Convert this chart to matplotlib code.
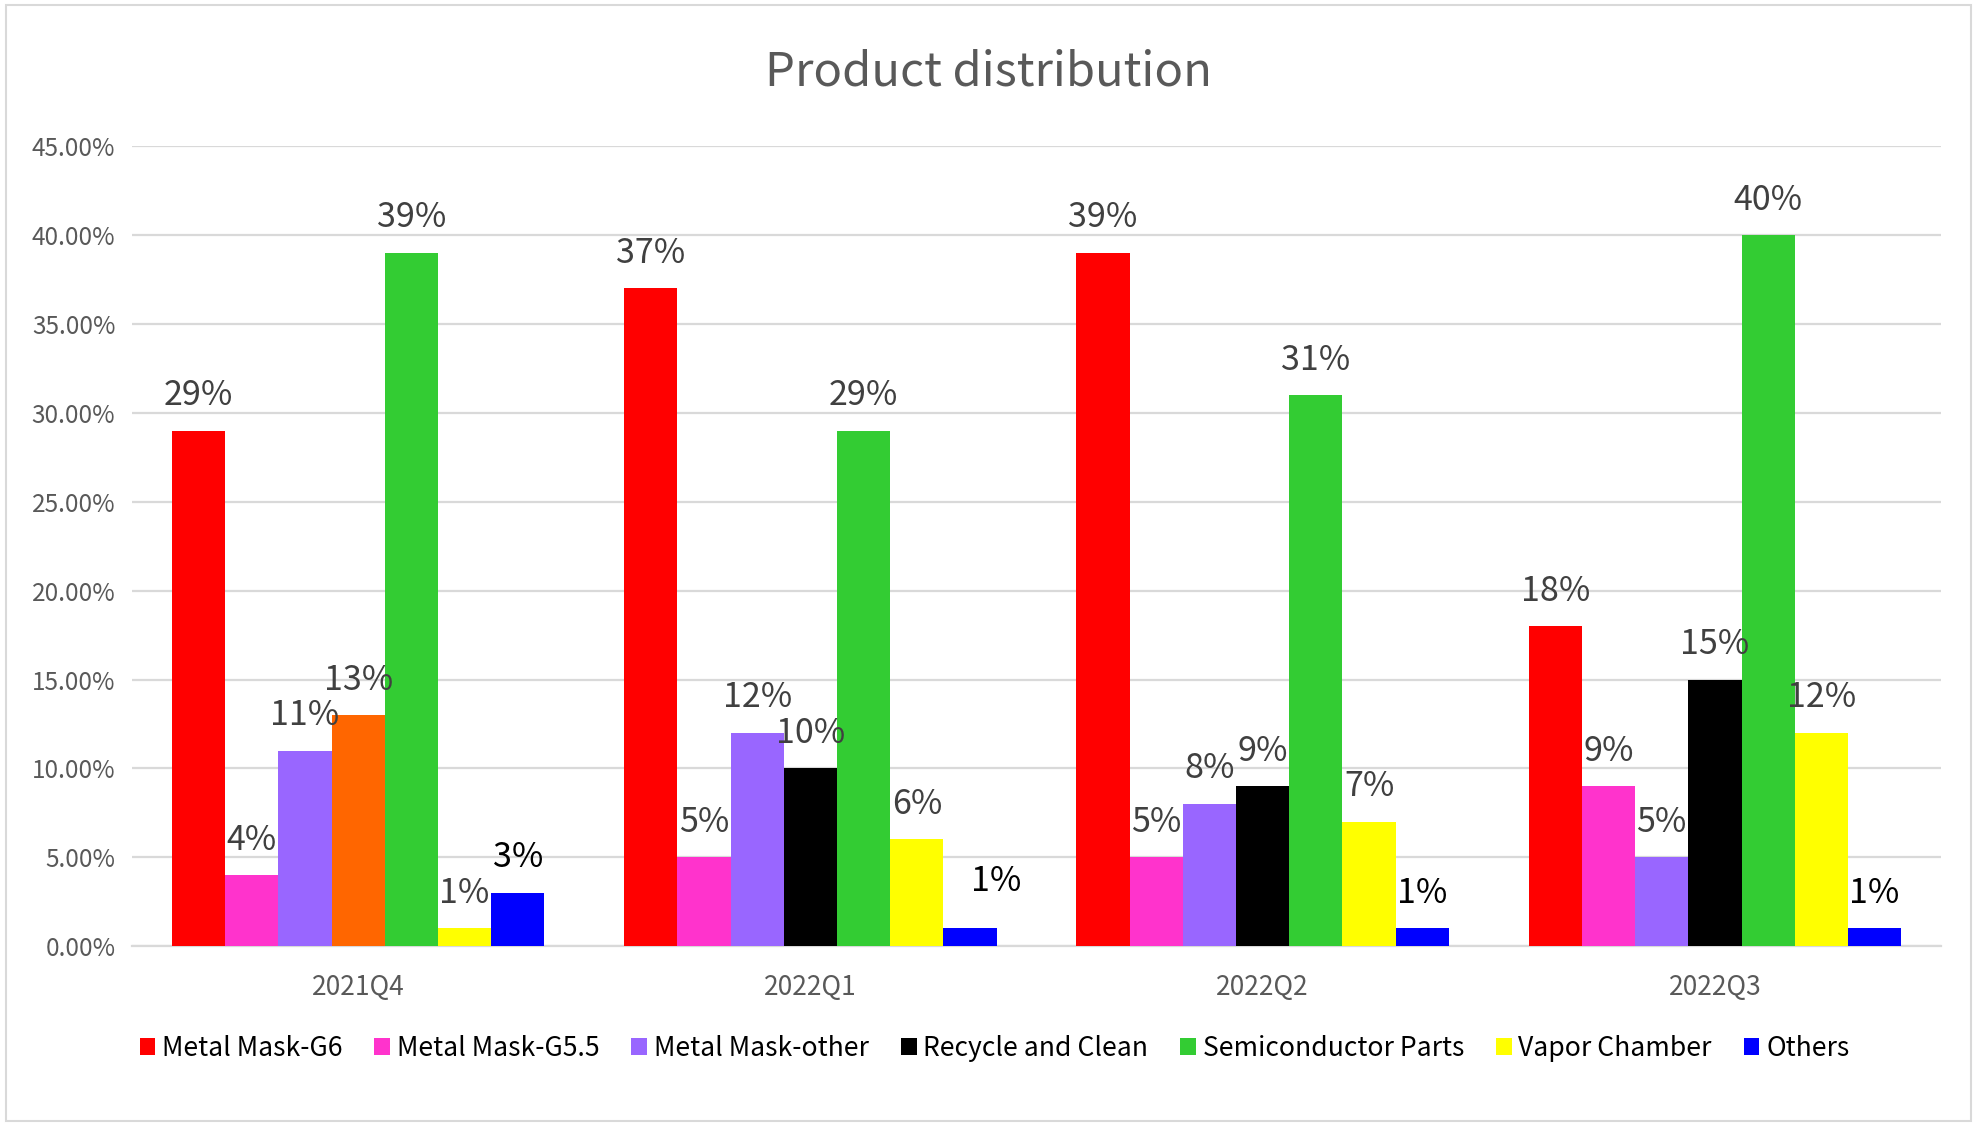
import matplotlib
matplotlib.use("Agg")
import matplotlib.pyplot as plt
import numpy as np
from matplotlib.patches import Patch, Rectangle

plt.rcParams['font.family'] = ['Noto Sans CJK TC', 'DejaVu Sans']

categories = ["2021Q4", "2022Q1", "2022Q2", "2022Q3"]
series_names = ["Metal Mask-G6", "Metal Mask-G5.5", "Metal Mask-other",
                "Recycle and Clean", "Semiconductor Parts", "Vapor Chamber", "Others"]
metal_mask_g6 = [0.29, 0.37, 0.39, 0.18]
metal_mask_g55 = [0.04, 0.05, 0.05, 0.09]
metal_mask_other = [0.11, 0.12, 0.08, 0.05]
recycle_clean = [0.13, 0.10, 0.09, 0.15]
semiconductor = [0.39, 0.29, 0.31, 0.40]
vapor_chamber = [0.01, 0.06, 0.07, 0.12]
others = [0.03, 0.01, 0.01, 0.01]
yticks = [0.0, 0.05, 0.10, 0.15, 0.20, 0.25, 0.30, 0.35, 0.40, 0.45]

series_values = [metal_mask_g6, metal_mask_g55, metal_mask_other,
                 recycle_clean, semiconductor, vapor_chamber, others]
colors = ["#FF0000", "#FF33CC", "#9966FF", "#000000", "#33CC33", "#FFFF00", "#0000FF"]
label_colors = ["#404040"] * 6 + ["#000000"]

fig = plt.figure(figsize=(19.77, 11.25), dpi=100)
ax = fig.add_axes([0.0668, 0.159, 0.915, 0.711])

n = len(series_names)
bw = 1.0 / (n + 1.5)
x = np.arange(len(categories))
for i, (name, vals) in enumerate(zip(series_names, series_values)):
    pos = x + (i - (n - 1) / 2) * bw
    bars = ax.bar(pos, vals, width=bw, color=colors[i], label=name, zorder=3)
    if name == "Recycle and Clean":
        bars[0].set_facecolor("#FF6600")
    for j, (b, v) in enumerate(zip(bars, vals)):
        dx, dy = 0, 35
        if name == "Others" and j == 1:
            dx, dy = 26, 47
        ax.annotate(f"{v*100:.0f}%", (b.get_x() + b.get_width() / 2, v),
                    xytext=(dx * 0.72, dy * 0.72), textcoords="offset points",
                    ha="center", va="center", fontsize=24.5, color=label_colors[i], zorder=4)

ax.set_xlim(-0.5, len(categories) - 0.5)
ax.set_ylim(0, 0.45)
ax.set_yticks(yticks)
ax.set_yticklabels([f"{t*100:.2f}%" for t in yticks])
ax.set_xticks(x)
ax.set_xticklabels(categories)
ax.tick_params(axis='both', length=0, colors="#595959")
ax.tick_params(axis='y', labelsize=17.5, pad=12)
ax.tick_params(axis='x', labelsize=19, pad=20)
ax.grid(axis='y', color="#D9D9D9", linewidth=1.6, zorder=0)
for s in ["top", "right", "left"]:
    ax.spines[s].set_visible(False)
ax.spines["bottom"].set_color("#D9D9D9")
ax.spines["bottom"].set_linewidth(1.6)

fig.text(0.5, 0.936, "Product distribution", ha="center", va="center",
         fontsize=34, color="#595959")

handles = [Patch(facecolor=c, edgecolor='none') for c in colors]
fig.legend(handles, series_names, loc="center", bbox_to_anchor=(0.503, 0.068),
           ncol=7, frameon=False, fontsize=19.1, handlelength=0.6, handleheight=0.6,
           handletextpad=0.25, columnspacing=1.2)

fig.patches.append(Rectangle((0.003, 0.004), 0.994, 0.992, transform=fig.transFigure,
                             fill=False, edgecolor="#D9D9D9", linewidth=1.5))

fig.savefig("out.png", dpi=100)
